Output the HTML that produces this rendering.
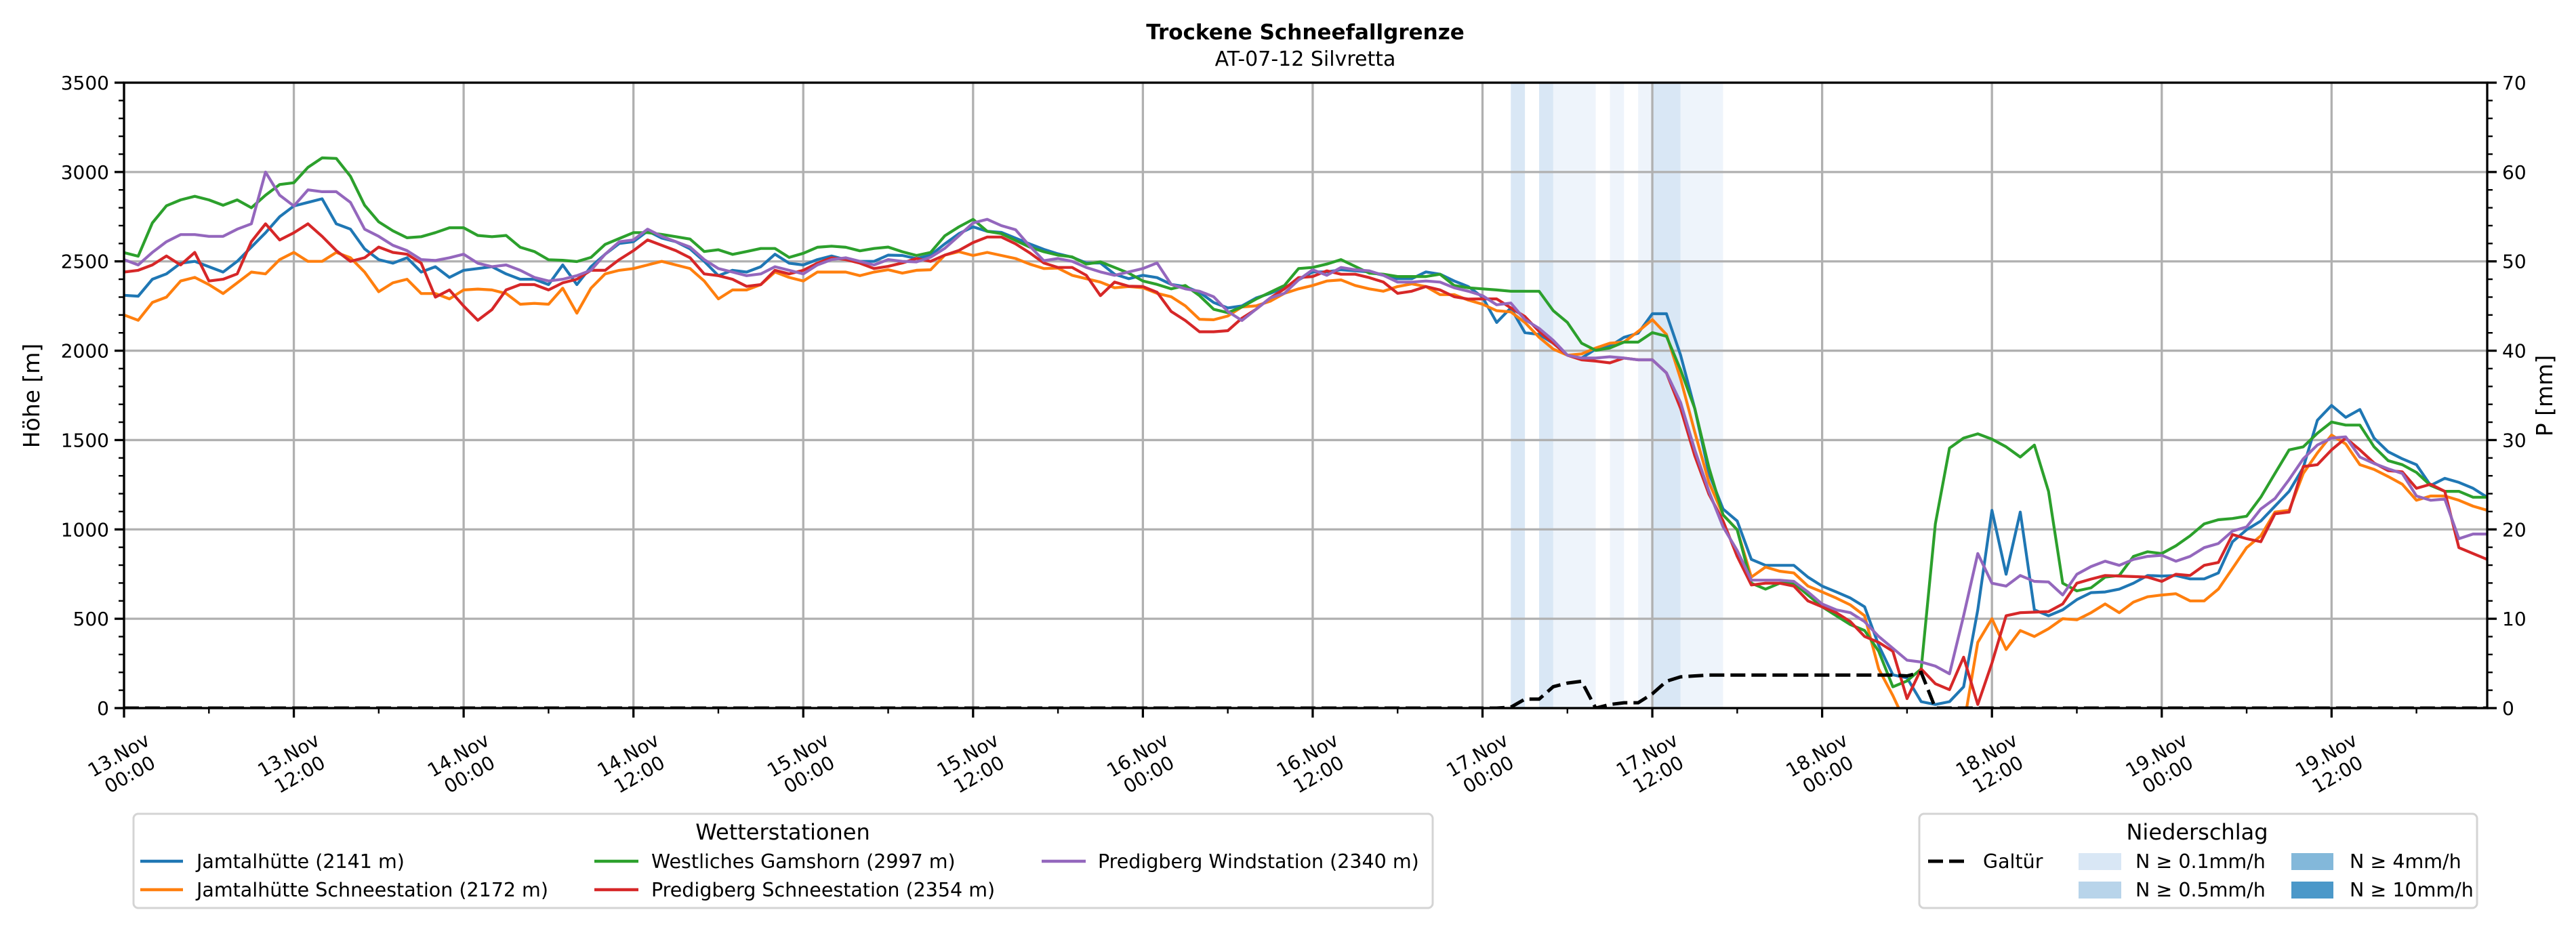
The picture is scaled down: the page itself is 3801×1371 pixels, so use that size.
<!DOCTYPE html>
<html><head><meta charset="utf-8">
<style>
html,body{margin:0;padding:0;background:#fff;}
svg{display:block;font-family:"DejaVu Sans","Liberation Sans",sans-serif;}
</style></head>
<body>
<svg id="chart" width="3801" height="1371" viewBox="0 0 3801 1371" xmlns="http://www.w3.org/2000/svg">
<defs><clipPath id="plotclip"><rect x="183" y="122" width="3487" height="923"/></clipPath></defs>
<text x="1926" y="58" text-anchor="middle" font-size="31" font-weight="bold">Trockene Schneefallgrenze</text>
<text x="1926" y="97" text-anchor="middle" font-size="30">AT-07-12 Silvretta</text>
<g id="bands" clip-path="url(#plotclip)"></g>
<g id="grid"></g>
<g id="series" clip-path="url(#plotclip)"></g>
<g id="axes"></g>
<text transform="translate(58,584) rotate(-90)" text-anchor="middle" font-size="33">Höhe [m]</text>
<text transform="translate(3766,584) rotate(-90)" text-anchor="middle" font-size="33">P [mm]</text>

<g>
<rect x="197" y="1201" width="1917" height="139" rx="7" fill="#fff" stroke="#d4d4d4" stroke-width="3"/>
<text x="1155" y="1239" text-anchor="middle" font-size="32">Wetterstationen</text>
<g><line x1="207" y1="1271" x2="270" y2="1271" stroke="#1f77b4" stroke-width="4.5"/><text x="290" y="1281" font-size="28.5">Jamtalhütte (2141 m)</text></g>
<g><line x1="207" y1="1313" x2="270" y2="1313" stroke="#ff7f0e" stroke-width="4.5"/><text x="290" y="1323" font-size="28.5">Jamtalhütte Schneestation (2172 m)</text></g>
<g><line x1="877" y1="1271" x2="942" y2="1271" stroke="#2ca02c" stroke-width="4.5"/><text x="961" y="1281" font-size="28.5">Westliches Gamshorn (2997 m)</text></g>
<g><line x1="877" y1="1313" x2="942" y2="1313" stroke="#d62728" stroke-width="4.5"/><text x="961" y="1323" font-size="28.5">Predigberg Schneestation (2354 m)</text></g>
<g><line x1="1537" y1="1271" x2="1602" y2="1271" stroke="#9467bd" stroke-width="4.5"/><text x="1620" y="1281" font-size="28.5">Predigberg Windstation (2340 m)</text></g>
</g>

<g>
<rect x="2832" y="1201" width="823" height="139" rx="7" fill="#fff" stroke="#d4d4d4" stroke-width="3"/>
<text x="3242" y="1239" text-anchor="middle" font-size="32">Niederschlag</text>
<g><line x1="2845" y1="1271" x2="2900" y2="1271" stroke="#000" stroke-width="5" stroke-dasharray="22,9"/><text x="2926" y="1281" font-size="28.5">Galtür</text></g>
<g><rect x="3067" y="1259" width="63" height="25" fill="#d9e7f5"/><text x="3151" y="1281" font-size="28.5">N ≥ 0.1mm/h</text></g>
<g><rect x="3067" y="1301" width="63" height="25" fill="#b8d4ea"/><text x="3151" y="1323" font-size="28.5">N ≥ 0.5mm/h</text></g>
<g><rect x="3381" y="1259" width="62" height="25" fill="#83b8da"/><text x="3467" y="1281" font-size="28.5">N ≥ 4mm/h</text></g>
<g><rect x="3381" y="1301" width="62" height="25" fill="#4b98c9"/><text x="3467" y="1323" font-size="28.5">N ≥ 10mm/h</text></g>
</g>
</svg>
<script>
const jamtal = [2310,2305,2400,2430,2490,2500,2470,2440,2500,2580,2660,2750,2810,2830,2850,2710,2680,2570,2510,2490,2520,2440,2470,2410,2450,2460,2470,2430,2400,2400,2370,2480,2370,2470,2540,2600,2610,2670,2630,2610,2570,2500,2420,2450,2440,2470,2540,2490,2480,2510,2530,2510,2500,2500,
2535,2533,2516,2535,2598,2655,2693,2668,2662,2630,2598,2567,2542,2523,2491,2491,2428,2403,2422,2409,2371,2359,2327,2270,2239,2251,2295,2321,2352,2396,2441,2441,2453,2447,2441,2422,2403,2403,2441,2428,2390,2359,2300,
2158,2240,2101,2091,2042,1975,1959,2009,2025,2075,2098,2207,2207,1975,1677,1313,1114,1047,832,799,799,799,733,683,650,616,567,351,186,169,36,20,36,119,550,1107,749,1097,550,517,550,607,646,650,666,699,742,739,742,723,723,756,931,998,1047,1130,1213,1346,1611,1694,1627,1671,1511,1435,1395,1362,1246,1286,1263,1230,1180];
const jamtalSchnee = [2200,2170,2270,2300,2390,2410,2370,2320,2380,2440,2430,2510,2550,2500,2500,2550,2520,2440,2330,2380,2400,2320,2320,2290,2340,2345,2340,2320,2260,2265,2260,2350,2210,2350,2430,2450,2460,2480,2500,2480,2460,2390,2290,2340,2340,2370,2440,2410,2390,2440,2440,2440,2420,2440,
2453,2434,2450,2453,2535,2554,2533,2550,2533,2516,2485,2460,2462,2422,2403,2384,2352,2359,2352,2321,2302,2251,2176,2173,2194,2245,2251,2277,2321,2346,2365,2390,2396,2365,2346,2333,2359,2374,2359,2314,2314,2283,2260,
2224,2217,2158,2075,2009,1975,1982,2015,2042,2048,2108,2174,2091,1843,1545,1263,1081,998,733,789,766,756,683,650,616,577,517,219,70,-100,-100,-100,-100,-100,368,500,328,434,401,444,500,494,534,583,534,593,623,633,640,600,600,666,782,898,964,1097,1107,1313,1428,1528,1478,1362,1336,1296,1253,1163,1187,1187,1163,1130,1107];
const gamshorn = [2549,2529,2715,2811,2844,2864,2844,2814,2844,2800,2870,2930,2940,3026,3079,3076,2976,2814,2721,2671,2632,2638,2661,2688,2688,2645,2638,2645,2579,2555,2509,2506,2499,2522,2595,2628,2661,2661,2651,2638,2625,2555,2565,2539,2555,2572,2572,2522,2545,2579,2585,2579,2559,2572,
2580,2554,2533,2550,2643,2693,2735,2668,2655,2617,2580,2554,2535,2525,2485,2497,2466,2434,2390,2371,2346,2365,2308,2232,2213,2245,2289,2327,2365,2460,2466,2485,2510,2472,2434,2428,2415,2415,2415,2428,2365,2352,2346,
2340,2333,2333,2333,2224,2158,2042,2002,2015,2048,2048,2101,2081,1893,1677,1346,1081,998,699,666,699,699,633,567,517,467,434,318,119,152,219,1031,1455,1511,1535,1505,1462,1405,1472,1213,699,656,673,733,742,849,875,865,908,964,1031,1054,1061,1074,1180,1313,1445,1462,1538,1601,1584,1584,1462,1385,1362,1319,1246,1213,1213,1180,1180];
const predigSchnee = [2440,2450,2480,2530,2480,2550,2390,2400,2430,2610,2710,2620,2660,2710,2640,2560,2500,2520,2580,2550,2540,2490,2300,2340,2250,2170,2230,2340,2370,2370,2340,2380,2400,2450,2450,2510,2560,2620,2590,2560,2520,2430,2420,2400,2360,2370,2450,2430,2450,2490,2520,2510,2490,2460,
2472,2491,2516,2500,2535,2561,2605,2636,2636,2598,2548,2491,2466,2466,2422,2308,2384,2361,2359,2327,2220,2169,2106,2106,2112,2182,2232,2295,2346,2409,2415,2447,2428,2428,2409,2384,2321,2333,2359,2340,2302,2289,2290,
2290,2240,2191,2108,2042,1975,1949,1942,1932,1959,1949,1949,1876,1677,1412,1197,1047,849,689,699,699,683,600,567,534,484,401,368,318,53,219,136,103,285,20,252,517,534,537,540,583,699,722,742,739,736,733,709,749,742,799,815,971,948,931,1087,1097,1352,1362,1445,1511,1445,1372,1329,1322,1230,1253,1213,898,865,832];
const predigWind = [2510,2480,2550,2610,2650,2650,2640,2640,2680,2710,3000,2870,2810,2900,2890,2890,2830,2680,2640,2590,2560,2510,2505,2520,2540,2490,2470,2480,2450,2410,2390,2400,2420,2450,2540,2610,2620,2680,2640,2610,2580,2510,2460,2440,2420,2430,2470,2450,2430,2480,2510,2520,2500,2480,
2510,2500,2497,2523,2573,2643,2715,2735,2700,2677,2586,2504,2516,2500,2466,2441,2422,2441,2460,2491,2371,2346,2333,2302,2220,2169,2232,2295,2321,2396,2453,2422,2466,2453,2447,2422,2384,2384,2390,2384,2352,2333,2308,
2257,2267,2174,2125,2058,1975,1959,1959,1966,1959,1949,1949,1876,1710,1445,1213,1014,882,716,716,716,709,650,583,550,534,484,401,335,268,258,235,192,517,865,699,683,742,709,706,633,749,792,822,799,832,849,855,822,849,898,921,991,1014,1114,1173,1279,1395,1472,1511,1518,1405,1369,1339,1313,1187,1163,1170,948,974,974];
const galtuerMm = [0,0,0,0,0,0,0,0,0,0,0,0,0,0,0,0,0,0,0,0,0,0,0,0,0,0,0,0,0,0,0,0,0,0,0,0,0,0,0,0,0,0,0,0,0,0,0,0,0,0,0,0,0,0,0,0,0,0,0,0,0,0,0,0,0,0,0,0,0,0,0,0,0,0,0,0,0,0,0,0,0,0,0,0,0,0,0,0,0,0,0,0,0,0,0,0,0,0,
0.1,1,1,2.4,2.8,3,0,0.4,0.6,0.6,1.6,3.0,3.5,3.6,3.7,3.7,3.7,3.7,3.7,3.7,3.7,3.7,3.7,3.7,3.7,3.7,3.7,3.7,3.6,4.0,
0,0,0,0,0,0,0,0,0,0,0,0,0,0,0,0,0,0,0,0,0,0,0,0,0,0,0,0,0,0,0,0,0,0,0,0,0,0,0,0];
const bandStart = [98,100,101,105,107,108,110];
const bandEnd = [99,101,104,106,108,110,113];
const bandLevel = [1,1,0,0,0,1,0];
const xTickDays = ["13.Nov","13.Nov","14.Nov","14.Nov","15.Nov","15.Nov","16.Nov","16.Nov","17.Nov","17.Nov","18.Nov","18.Nov","19.Nov","19.Nov"];
const xTickTimes = ["00:00","12:00","00:00","12:00","00:00","12:00","00:00","12:00","00:00","12:00","00:00","12:00","00:00","12:00"];
const yTicks = [0,500,1000,1500,2000,2500,3000,3500];
const y2Ticks = [0,10,20,30,40,50,60,70];

const NS = "http://www.w3.org/2000/svg";
const L=183,R=3670,T=122,B=1045,HMAX=167;
const X = h => L + h*(R-L)/HMAX;
const Y = v => B - v*(B-T)/3500;
const Y2 = m => B - m*(B-T)/70;
function mk(tag, attrs, parent){const e=document.createElementNS(NS,tag);for(const k in attrs)e.setAttribute(k,attrs[k]);parent.appendChild(e);return e;}
const gb=document.getElementById('bands'),gg=document.getElementById('grid'),gs=document.getElementById('series'),ga=document.getElementById('axes');
const bandColors=["#eef4fb","#d9e7f5"];
bandStart.forEach((s,i)=>{
  const r=mk('rect',{x:X(s),y:T,width:X(bandEnd[i])-X(s),height:B-T,fill:bandColors[bandLevel[i]]},gb);
  
  
});
for(let i=0;i<xTickDays.length;i++){const x=X(i*12);
  const l=mk('line',{x1:x,y1:T,x2:x,y2:B,stroke:"#b0b0b0","stroke-width":3.3},gg);
  
  }
yTicks.forEach(v=>{const y=Y(v);
  const l=mk('line',{x1:L,y1:y,x2:R,y2:y,stroke:"#b0b0b0","stroke-width":3.3},gg);
  
  });
function path(arr,yf){return arr.map((v,i)=>(i?'L':'M')+X(i).toFixed(1)+','+yf(v).toFixed(1)).join(' ');}
const series=[[jamtal,"#1f77b4","series-jamtal"],[jamtalSchnee,"#ff7f0e","series-jamtal-schnee"],[gamshorn,"#2ca02c","series-gamshorn"],[predigSchnee,"#d62728","series-predigberg-schnee"],[predigWind,"#9467bd","series-predigberg-wind"]];
series.forEach(s=>{
  const p=mk('path',{d:path(s[0],Y),fill:"none",stroke:s[1],"stroke-width":4.2,"stroke-linejoin":"round"},gs);
  
  
});
const gp=mk('path',{d:path(galtuerMm,Y2),fill:"none",stroke:"#000","stroke-width":5,"stroke-dasharray":"22,9"},gs);


mk('rect',{x:L,y:T,width:R-L,height:B-T,fill:"none",stroke:"#000","stroke-width":3.3},ga);
for(let v=0;v<=3500;v+=100){const y=Y(v);const maj=v%500===0;
  mk('line',{x1:L-(maj?14:8),y1:y,x2:L,y2:y,stroke:"#000","stroke-width":maj?3.3:2.4},ga);}
yTicks.forEach(v=>{const t=mk('text',{x:L-22,y:Y(v)+10,"text-anchor":"end","font-size":28},ga);t.textContent=v;
  
  });
for(let m=0;m<=70;m+=2){const y=Y2(m);const maj=m%10===0;
  mk('line',{x1:R,y1:y,x2:R+(maj?14:8),y2:y,stroke:"#000","stroke-width":maj?3.3:2.4},ga);}
y2Ticks.forEach(m=>{const t=mk('text',{x:R+22,y:Y2(m)+10,"font-size":28},ga);t.textContent=m;
  
  });
for(let h=0;h<=HMAX;h+=6){const x=X(h);const maj=h%12===0;
  mk('line',{x1:x,y1:B,x2:x,y2:B+(maj?14:8),stroke:"#000","stroke-width":maj?3.3:2.4},ga);}
xTickDays.forEach((d,i)=>{const x=X(i*12);
  const t=mk('text',{transform:`translate(${x.toFixed(1)},1128) rotate(-30)`,"text-anchor":"middle","font-size":28},ga);
  
  
  const a=mk('tspan',{x:0,y:-6},t);a.textContent=d;
  const b=mk('tspan',{x:0,y:27},t);b.textContent=xTickTimes[i];});
</script>
</body></html>
